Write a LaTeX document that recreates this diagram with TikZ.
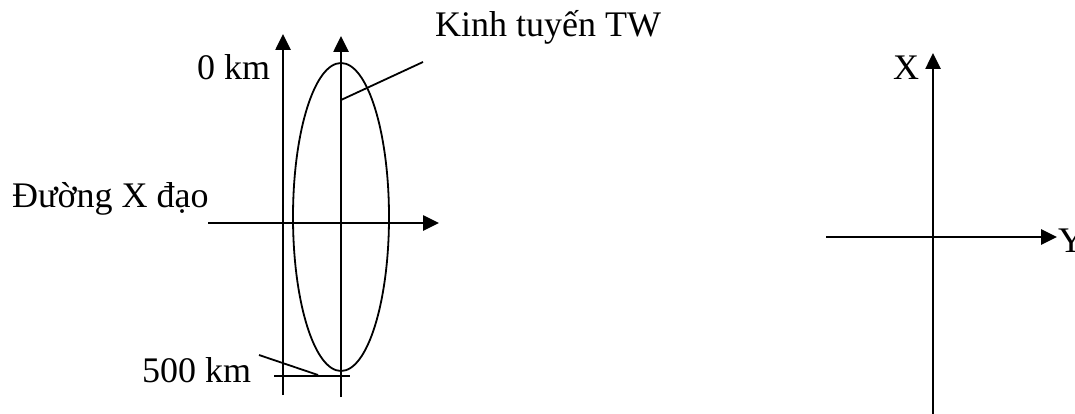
\documentclass[tikz,border=0pt]{standalone}
\usepackage{fontspec}
\setmainfont{Liberation Serif}
\usetikzlibrary{arrows.meta,shapes.geometric}

\begin{document}
\begin{tikzpicture}[
    x=1pt, y=-1pt,
    font=\fontsize{36}{40}\selectfont,
    >={Triangle[length=16pt,width=15pt]},
    axis/.style={->, line width=2.6pt, draw=black},
    thinline/.style={line width=1.8pt, draw=black},
    lbl/.style={inner sep=0pt, anchor=base west}
]
\useasboundingbox (0,0) rectangle (1075,414);

% left sketch: zone with central meridian
\coordinate (lbot) at (283,395);
\coordinate (ltop) at (283,34);
\coordinate (mbot) at (341,397);
\coordinate (mtop) at (341,36);
\coordinate (eqw) at (208,223);
\coordinate (eqe) at (439,223);

\node[ellipse, draw, thinline, inner sep=0pt, minimum width=96pt, minimum height=308pt] (zone) at (341,217) {};

\draw[axis] (lbot) -- (ltop);
\draw[axis] (mbot) -- (mtop);
\draw[axis] (eqw) -- (eqe);

\node[lbl] (zero) at (197,80) {0 km};
\node[lbl] (tw) at (435,37) {Kinh tuyến TW};
\node[lbl] (eq) at (12,207) {Đường X đạo};
\node[lbl] (five) at (142,382) {500 km};

\coordinate (twfoot) at (341,100);
\coordinate (twend) at (423,62);
\draw[thinline] (twfoot) -- (twend);

\coordinate (fivetip) at (259,355);
\coordinate (fiveend) at (318,375);
\draw[thinline] (fivetip) -- (fiveend);
\coordinate (tickw) at (274,376);
\coordinate (ticke) at (350,376);
\draw[thinline] (tickw) -- (ticke);

% right sketch: plane axes
\coordinate (xbot) at (933,414);
\coordinate (xtop) at (933,53);
\coordinate (yw) at (826,237);
\coordinate (ye) at (1057,237);
\draw[axis] (xbot) -- (xtop);
\draw[axis] (yw) -- (ye);
\node[lbl] (xlab) at (893,80) {X};
\node[lbl] (ylab) at (1058,252) {Y};
\end{tikzpicture}
\end{document}
